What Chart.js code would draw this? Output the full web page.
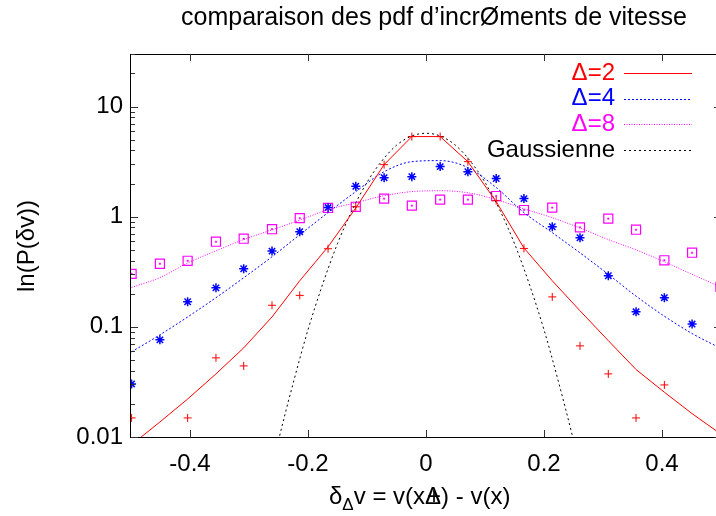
<!DOCTYPE html>
<html>
<head>
<meta charset="utf-8">
<script src="https://cdn.jsdelivr.net/npm/chart.js@4.4.1/dist/chart.umd.min.js"></script>
<style>
  html, body { margin: 0; padding: 0; background: #fff; overflow: hidden; }
  #wrap { width: 716px; height: 516px; overflow: hidden; }
</style>
</head>
<body>
<div id="wrap"><canvas id="myChart" width="730" height="516"></canvas></div>
<script>
// bin centres of the velocity increments
const binX = [-0.499, -0.451, -0.404, -0.356, -0.309, -0.261, -0.214, -0.166, -0.119, -0.071, -0.024,
              0.024, 0.071, 0.119, 0.166, 0.214, 0.261, 0.309, 0.356, 0.404, 0.451, 0.499];

// measured pdfs (points)
const pdf2 = [0.0149, null, 0.0149, 0.0523, 0.0442, 0.157, 0.193, 0.512, 1.23, 2.97, 5.34,
              5.34, 3.16, 1.40, 0.515, 0.187, 0.0672, 0.0374, 0.0149, 0.0297, null, null];
const pdf4 = [0.0303, 0.0762, 0.169, 0.226, 0.337, 0.487, 0.731, 1.21, 1.89, 2.26, 2.31,
              2.85, 2.56, 2.22, 1.46, 0.811, 0.644, 0.291, 0.137, 0.184, 0.106, 0.076];
const pdf8 = [0.303, 0.374, 0.398, 0.593, 0.631, 0.77, 0.97, 1.2, 1.23, 1.46, 1.26,
              1.43, 1.43, 1.54, 1.15, 1.21, 0.8, 0.96, 0.762, 0.402, 0.471, 0.231];

// fitted curves (lines)
const fit2 = [0.0085, 0.0137, 0.0221, 0.0374, 0.0644, 0.123, 0.262, 0.533, 1.2, 2.97, 5.34,
              5.34, 3.16, 1.37, 0.52, 0.262, 0.14, 0.075, 0.041, 0.0255, 0.0163, 0.0107];
const fit4 = [0.0593, 0.0846, 0.123, 0.184, 0.279, 0.433, 0.686, 1.09, 1.69, 2.56, 3.16,
              3.23, 2.79, 1.84, 1.09, 0.716, 0.47, 0.30, 0.19, 0.125, 0.087, 0.064];
const fit8 = [0.228, 0.28, 0.38, 0.49, 0.62, 0.76, 0.93, 1.16, 1.34, 1.55, 1.69,
              1.72, 1.65, 1.43, 1.18, 0.98, 0.79, 0.62, 0.50, 0.39, 0.30, 0.23];

// gaussian reference
const gaussX = [-0.3, -0.275, -0.25, -0.225, -0.2, -0.175, -0.15, -0.125, -0.1, -0.075, -0.05, -0.025, 0,
                0.025, 0.05, 0.075, 0.1, 0.125, 0.15, 0.175, 0.2, 0.225, 0.25, 0.275, 0.3];
const gaussY = [0.00053, 0.0024, 0.0093, 0.031, 0.094, 0.245, 0.57, 1.15, 2.05, 3.2, 4.45, 5.38, 5.72,
                5.38, 4.45, 3.2, 2.05, 1.15, 0.57, 0.245, 0.094, 0.031, 0.0093, 0.0024, 0.00053];

// ticks
const xTicks = [-0.4, -0.2, 0, 0.2, 0.4];
const xTickLabels = ['-0.4', '-0.2', '0', '0.2', '0.4'];
const yTicks = [0.01, 0.1, 1, 10];
const yTickLabels = ['0.01', '0.1', '1', '10'];

// legend
const legendLabels = ['\u0394=2', '\u0394=4', '\u0394=8', 'Gaussienne'];
const legendColors = ['#ff0000', '#0000ff', '#ff00ff', '#000000'];
const legendDash = [[], [2, 2], [1, 1.5], [2, 3]];

const FONT = '24px "Liberation Sans", Arial, sans-serif';

function pts(xs, ys) {
    return xs.map((x, i) => ({ x: x, y: ys[i] }));
}

const gnuplotFrame = {
    id: 'gnuplotFrame',
    afterDraw(chart) {
        const ctx = chart.ctx;
        const a = chart.chartArea;
        const xs = chart.scales.x;
        const ys = chart.scales.y;
        ctx.save();

        // border
        ctx.strokeStyle = '#000';
        ctx.lineWidth = 1;
        ctx.setLineDash([]);
        ctx.strokeRect(a.left - 0.5, a.top + 0.5, a.right - a.left, a.bottom - a.top);

        // x ticks (bottom and top, pointing inward)
        ctx.strokeStyle = '#333';
        ctx.beginPath();
        xTicks.forEach(v => {
            const px = Math.round(xs.getPixelForValue(v)) + 0.5;
            ctx.moveTo(px, a.bottom); ctx.lineTo(px, a.bottom - 7);
            ctx.moveTo(px, a.top); ctx.lineTo(px, a.top + 7);
        });
        // y ticks, major and minor, left and right
        for (let d = 0.01; d < 30; d *= 10) {
            for (let m = 1; m < 10; m++) {
                const v = d * m;
                if (v > 30) break;
                const py = Math.round(ys.getPixelForValue(v)) + 0.5;
                const len = m === 1 ? 7 : 4;
                ctx.moveTo(a.left, py); ctx.lineTo(a.left + len, py);
                ctx.moveTo(a.right, py); ctx.lineTo(a.right - len, py);
            }
        }
        ctx.stroke();

        // tick labels
        ctx.fillStyle = '#000';
        ctx.font = FONT;
        ctx.textAlign = 'center';
        ctx.textBaseline = 'middle';
        xTicks.forEach((v, i) => {
            ctx.fillText(xTickLabels[i], xs.getPixelForValue(v), 464);
        });
        ctx.textAlign = 'right';
        yTicks.forEach((v, i) => {
            ctx.fillText(yTickLabels[i], a.left - 8, ys.getPixelForValue(v));
        });

        // title
        ctx.textAlign = 'left';
        ctx.font = '25px "Liberation Sans", Arial, sans-serif';
        ctx.fillText('comparaison des pdf d\u2019incr\u00d8ments de vitesse', 181, 18);
        ctx.font = FONT;

        // y axis title
        ctx.textAlign = 'center';
        ctx.save();
        ctx.translate(27, 246);
        ctx.rotate(-Math.PI / 2);
        ctx.fillText('ln(P(\u03b4v))', 0, 0);
        ctx.restore();

        // x axis title: delta_Delta v = v(x+Delta) - v(x)
        ctx.textAlign = 'left';
        let cx = 329;
        const cy = 497;
        ctx.fillText('\u03b4', cx, cy);
        cx += ctx.measureText('\u03b4').width;
        ctx.font = '17px "Liberation Sans", Arial, sans-serif';
        ctx.fillText('\u0394', cx, cy + 8);
        cx += ctx.measureText('\u0394').width;
        ctx.font = FONT;
        ctx.fillText('v = v(x', cx, cy);
        cx += ctx.measureText('v = v(x').width;
        ctx.fillText('\u0394', cx, cy);
        ctx.fillText('+', cx + 2, cy);
        cx += ctx.measureText('\u0394').width;
        ctx.fillText(') - v(x)', cx, cy);

        // legend
        legendLabels.forEach((lab, i) => {
            const ly = 73 + i * 25.7;
            ctx.textAlign = 'right';
            ctx.fillStyle = legendColors[i];
            ctx.fillText(lab, 615, ly);
            ctx.strokeStyle = legendColors[i];
            ctx.lineWidth = 1;
            ctx.setLineDash(legendDash[i]);
            ctx.beginPath();
            ctx.moveTo(624, Math.round(ly) + 0.5);
            ctx.lineTo(692, Math.round(ly) + 0.5);
            ctx.stroke();
        });
        ctx.restore();
    }
};

const lineStyle = {
    showLine: true,
    pointRadius: 0,
    borderWidth: 1,
    fill: false,
    cubicInterpolationMode: 'monotone'
};

const myChart = new Chart(document.getElementById('myChart'), {
    type: 'scatter',
    data: {
        datasets: [
            Object.assign({ data: pts(binX, fit2), borderColor: '#ff0000' }, lineStyle, { cubicInterpolationMode: 'default', tension: 0 }),
            Object.assign({ data: pts(binX, fit4), borderColor: '#0000ff', borderDash: [2, 2] }, lineStyle),
            Object.assign({ data: pts(binX, fit8), borderColor: '#ff00ff', borderDash: [1, 1.5] }, lineStyle),
            Object.assign({ data: pts(gaussX, gaussY), borderColor: '#000000', borderDash: [2, 3] }, lineStyle),
            {
                data: pts(binX, pdf2), showLine: false, pointStyle: 'cross',
                pointRadius: 4, borderColor: '#ff0000', borderWidth: 1
            },
            {
                data: pts(binX, pdf4), showLine: false, pointStyle: 'star',
                pointRadius: 4.5, borderColor: '#0000ff', borderWidth: 1.5
            },
            {
                data: pts(binX, pdf8), showLine: false, pointStyle: 'rect',
                pointRadius: 6.4, borderColor: '#ff00ff', backgroundColor: 'rgba(0,0,0,0)', borderWidth: 1.2
            },
            {
                data: pts(binX, pdf8), showLine: false, pointStyle: 'rect',
                pointRadius: 1, borderColor: '#ff00ff', backgroundColor: '#ff00ff', borderWidth: 0.5
            }
        ]
    },
    options: {
        responsive: false,
        animation: false,
        layout: { padding: { left: 131, right: 9, top: 54, bottom: 79 } },
        plugins: { legend: { display: false }, tooltip: { enabled: false } },
        scales: {
            x: { type: 'linear', min: -0.5, max: 0.5, display: false },
            y: { type: 'logarithmic', min: 0.01, max: 30, display: false }
        }
    },
    plugins: [gnuplotFrame]
});
</script>
</body>
</html>
